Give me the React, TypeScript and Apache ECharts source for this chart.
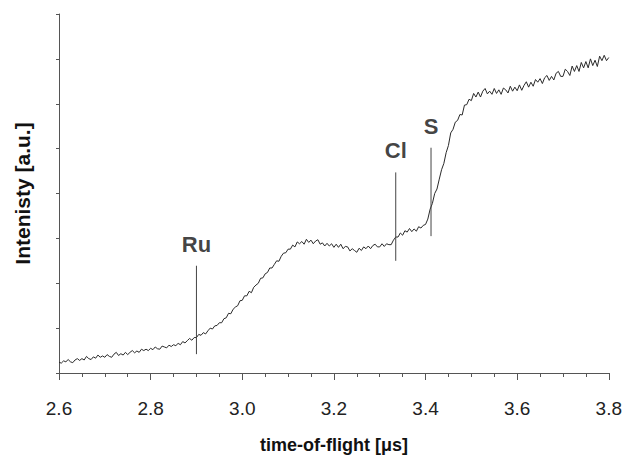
import React, { useEffect, useRef } from "react";
import * as echarts from "echarts";

// sampling grid: 2.600 .. 3.800 µs, step 0.005
const tofStart = 2.6;
const tofStep = 0.005;

const intensity = [
  0.24, 0.22, 0.27, 0.25, 0.30, 0.25, 0.23, 0.29, 0.32, 0.28,
  0.32, 0.29, 0.37, 0.32, 0.30, 0.36, 0.33, 0.40, 0.35, 0.38,
  0.35, 0.41, 0.37, 0.35, 0.42, 0.46, 0.39, 0.43, 0.40, 0.46,
  0.41, 0.46, 0.50, 0.45, 0.49, 0.46, 0.53, 0.50, 0.53, 0.50,
  0.55, 0.52, 0.58, 0.54, 0.53, 0.60, 0.58, 0.56, 0.62, 0.59,
  0.63, 0.61, 0.66, 0.63, 0.70, 0.67, 0.72, 0.77, 0.73, 0.79,
  0.79, 0.86, 0.84, 0.90, 0.87, 0.94, 1.00, 0.98, 1.05, 1.06,
  1.12, 1.12, 1.21, 1.23, 1.33, 1.32, 1.42, 1.47, 1.50, 1.61,
  1.62, 1.72, 1.72, 1.82, 1.79, 1.91, 1.96, 2.00, 2.11, 2.12,
  2.21, 2.24, 2.34, 2.34, 2.42, 2.50, 2.49, 2.60, 2.67, 2.68,
  2.76, 2.76, 2.85, 2.81, 2.92, 2.88, 2.93, 2.87, 2.98, 2.91,
  2.96, 2.88, 2.94, 2.97, 2.87, 2.90, 2.83, 2.89, 2.83, 2.88,
  2.80, 2.87, 2.80, 2.87, 2.77, 2.82, 2.81, 2.72, 2.77, 2.73,
  2.69, 2.78, 2.73, 2.81, 2.77, 2.83, 2.77, 2.84, 2.87, 2.81,
  2.81, 2.88, 2.82, 2.88, 2.86, 2.86, 2.96, 3.03, 3.03, 3.12,
  3.07, 3.17, 3.14, 3.22, 3.15, 3.21, 3.16, 3.26, 3.23, 3.29,
  3.31, 3.43, 3.65, 3.78, 4.00, 4.10, 4.32, 4.53, 4.67, 4.91,
  5.07, 5.35, 5.43, 5.59, 5.63, 5.76, 5.75, 5.97, 5.98, 6.10,
  6.07, 6.23, 6.15, 6.26, 6.15, 6.28, 6.34, 6.22, 6.28, 6.21,
  6.34, 6.23, 6.31, 6.21, 6.35, 6.31, 6.24, 6.39, 6.28, 6.37,
  6.29, 6.42, 6.30, 6.41, 6.49, 6.37, 6.48, 6.39, 6.54, 6.48,
  6.56, 6.45, 6.58, 6.63, 6.52, 6.61, 6.53, 6.68, 6.72, 6.61,
  6.61, 6.77, 6.72, 6.63, 6.84, 6.72, 6.85, 6.72, 6.92, 6.80,
  6.94, 6.80, 7.00, 6.85, 6.97, 6.83, 7.06, 6.96, 7.08, 6.96,
  7.03,
];

const markerNames = ["Ru", "Cl", "S"];
const markerX = [2.9, 3.335, 3.412];
const markerBottom = [0.42, 2.5, 3.05];
const markerTop = [2.39, 4.47, 5.02];

const xTicks = ["2.6", "2.8", "3.0", "3.2", "3.4", "3.6", "3.8"];

const FONT = "'Liberation Sans', Arial, sans-serif";

export default function App() {
  const ref = useRef<HTMLDivElement>(null);

  useEffect(() => {
    if (!ref.current) return;
    const chart = echarts.init(ref.current, undefined, { renderer: "svg" });
    const curve = intensity.map((v, i) => [
      +(tofStart + i * tofStep).toFixed(3),
      v,
    ]);
    const markerLines = markerNames.map((name, k) => ({
      type: "line",
      name,
      data: [
        [markerX[k], markerBottom[k]],
        [markerX[k], markerTop[k]],
      ],
      symbol: "none",
      lineStyle: { color: "#444", width: 1 },
      silent: true,
      z: 3,
    }));

    chart.setOption({
      animation: false,
      grid: { left: 59, top: 14, right: 16, bottom: 80 },
      xAxis: {
        type: "value",
        min: 2.6,
        max: 3.8,
        interval: 0.2,
        name: "time-of-flight [μs]",
        nameLocation: "middle",
        nameGap: 63,
        nameTextStyle: {
          fontFamily: FONT,
          fontWeight: "bold",
          fontSize: 18,
          color: "#111",
        },
        axisLine: { show: true, lineStyle: { color: "#555", width: 1 } },
        axisTick: { show: true, length: 7, lineStyle: { color: "#555" } },
        minorTick: {
          show: true,
          splitNumber: 4,
          length: 4,
          lineStyle: { color: "#555" },
        },
        splitLine: { show: false },
        axisLabel: {
          margin: 26,
          fontFamily: FONT,
          fontSize: 19,
          color: "#222",
          formatter: (v: number) => {
            const s = v.toFixed(1);
            return xTicks.includes(s) ? s : "";
          },
        },
      },
      yAxis: {
        type: "value",
        min: 0,
        max: 8,
        interval: 1,
        name: "Intenisty [a.u.]",
        nameLocation: "middle",
        nameRotate: 90,
        nameGap: 26,
        nameTextStyle: {
          fontFamily: FONT,
          fontWeight: "bold",
          fontSize: 21,
          color: "#111",
        },
        axisLine: { show: true, lineStyle: { color: "#555", width: 1 } },
        axisTick: { show: true, length: 3, lineStyle: { color: "#555" } },
        axisLabel: { show: false },
        splitLine: { show: false },
      },
      series: [
        {
          type: "line",
          data: curve,
          symbol: "none",
          lineStyle: { color: "#2a2a2a", width: 1 },
          silent: true,
          z: 2,
        },
        ...markerLines,
        {
          type: "scatter",
          data: markerNames.map((name, k) => ({
            name,
            value: [markerX[k], markerTop[k]],
          })),
          symbolSize: 1,
          itemStyle: { color: "rgba(0,0,0,0)" },
          silent: true,
          label: {
            show: true,
            position: "top",
            distance: 10,
            formatter: (p: any) => p.name,
            fontFamily: FONT,
            fontWeight: "bold",
            fontSize: 22,
            color: "#111",
          },
          z: 4,
        },
      ],
    });
    return () => chart.dispose();
  }, []);

  return (
    <div
      ref={ref}
      style={{ position: "absolute", left: 0, top: 0, width: 625, height: 459 }}
    />
  );
}
